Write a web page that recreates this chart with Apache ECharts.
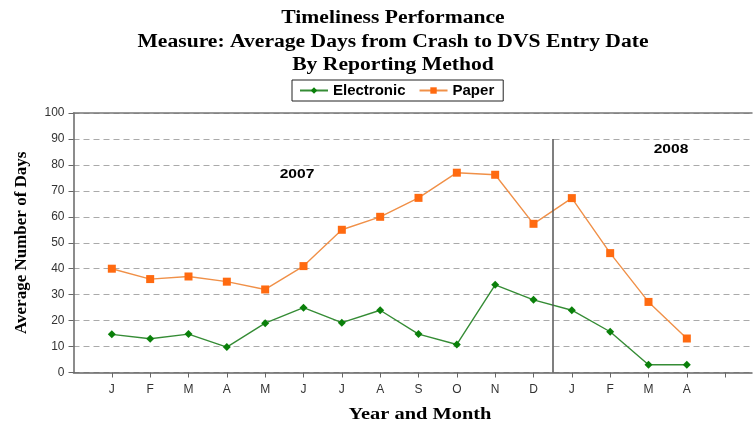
<!DOCTYPE html>
<html lang="en">
<head>
    <meta charset="UTF-8">
    <title>Timeliness Performance</title>
    <script src="https://cdn.jsdelivr.net/npm/echarts@6/dist/echarts.min.js"></script>
    <style>
        html, body { margin: 0; padding: 0; background: #fff; }
        #charts { width: 755px; height: 423px; }
    </style>
</head>
<body>
<div id="charts"></div>
<script>
    // month letters, 2007 Jan .. 2008 Apr
    var months = ['J', 'F', 'M', 'A', 'M', 'J', 'J', 'A', 'S', 'O', 'N', 'D', 'J', 'F', 'M', 'A'];
    var electronic = [14.7, 13, 14.8, 9.8, 19, 25, 19.2, 24, 14.8, 10.8, 33.8, 28, 24, 15.7, 3, 3];
    var paper = [40, 36, 37, 35, 32, 41, 55, 60, 67.3, 77, 76.2, 57.3, 67.2, 46, 27.2, 13.1];
    var yTicks = [0, 10, 20, 30, 40, 50, 60, 70, 80, 90, 100];
    var titleLines = ['Timeliness Performance', 'Measure: Average Days from Crash to DVS Entry Date', 'By Reporting Method'];
    var yearBreak = 12.5;   // between Dec 2007 and Jan 2008

    var serif = '"Liberation Serif", "DejaVu Serif", serif';
    var sans = '"Liberation Sans", Arial, sans-serif';
    var stretch = 1.2;      // the original picture is a bit wider than tall

    function toPoints(arr) {
        return arr.map(function (v, i) { return [i + 1, v]; });
    }

    // ticks under every month plus one after the last
    var xTickValues = months.map(function (m, i) { return i + 1; });
    xTickValues.push(months.length + 1);

    function stretchedText(str, x, y, font) {
        return {
            type: 'text',
            x: x,
            y: y,
            scaleX: stretch,
            style: {
                text: str,
                font: font,
                fill: '#000',
                align: 'center',
                verticalAlign: 'middle',
                textAlign: 'center',
                textVerticalAlign: 'middle'
            }
        };
    }

    var graphics = titleLines.map(function (t, i) {
        return stretchedText(t, 393, 18.5 + i * 23.5, 'bold 18px ' + serif);
    });
    graphics.push(stretchedText('Year and Month', 420, 415, 'bold 17px ' + serif));
    graphics.push(stretchedText('2007', 297, 174, 'bold 13px ' + sans));
    graphics.push(stretchedText('2008', 671, 149, 'bold 13px ' + sans));

    var option = {
        animation: false,
        legend: {
            data: ['Electronic', 'Paper'],
            left: 292,
            top: 80,
            padding: [3, 9, 3, 7],
            borderColor: '#222',
            borderWidth: 1,
            itemWidth: 28,
            itemHeight: 8,
            itemGap: 13,
            textStyle: { fontFamily: sans, fontSize: 15, fontWeight: 'bold', color: '#000' }
        },
        grid: {
            left: 73.5,
            top: 113,
            right: 0,
            bottom: 50.5
        },
        xAxis: [{
            type: 'value',
            min: 0,
            max: 17.7,
            interval: 1,
            axisLine: { lineStyle: { color: '#666', width: 1.5 } },
            axisTick: { show: true, length: 5, customValues: xTickValues, lineStyle: { color: '#666' } },
            axisLabel: {
                color: '#333',
                fontFamily: sans,
                fontSize: 12,
                margin: 11,
                formatter: function (v) {
                    return (v >= 1 && v <= months.length && v % 1 === 0) ? months[v - 1] : '';
                }
            },
            splitLine: { show: false }
        }, {
            type: 'value',
            position: 'top',
            min: 0,
            max: 17.7,
            axisLine: { show: true, lineStyle: { color: '#777', width: 1.5 } },
            axisTick: { show: false },
            axisLabel: { show: false },
            splitLine: { show: false }
        }],
        yAxis: {
            type: 'value',
            min: yTicks[0],
            max: yTicks[yTicks.length - 1],
            interval: 10,
            name: 'Average Number of Days',
            nameLocation: 'middle',
            nameGap: 43,
            nameTextStyle: { fontFamily: serif, fontWeight: 'bold', fontSize: 17, color: '#000' },
            axisLine: { show: true, lineStyle: { color: '#666', width: 1.5 } },
            axisTick: { show: true, length: 5, lineStyle: { color: '#666' } },
            axisLabel: { color: '#333', fontFamily: sans, fontSize: 12, margin: 9 },
            splitLine: { lineStyle: { color: '#aaa', type: [6, 4], width: 1 } }
        },
        series: [{
            name: 'Electronic',
            type: 'line',
            data: toPoints(electronic),
            symbol: 'diamond',
            symbolSize: 8,
            lineStyle: { color: '#358c35', width: 1.4 },
            itemStyle: { color: '#0a800a' },
            markLine: {
                silent: true,
                symbol: 'none',
                label: { show: false },
                lineStyle: { color: '#555', type: 'solid', width: 1.5 },
                data: [[{ coord: [yearBreak, 0] }, { coord: [yearBreak, 90] }]]
            }
        }, {
            name: 'Paper',
            type: 'line',
            data: toPoints(paper),
            symbol: 'rect',
            symbolSize: 8,
            lineStyle: { color: '#f09048', width: 1.4 },
            itemStyle: { color: '#ff6a10' }
        }],
        graphic: graphics
    };

    var myChart = echarts.init(document.getElementById('charts'));
    myChart.setOption(option);
</script>
</body>
</html>
